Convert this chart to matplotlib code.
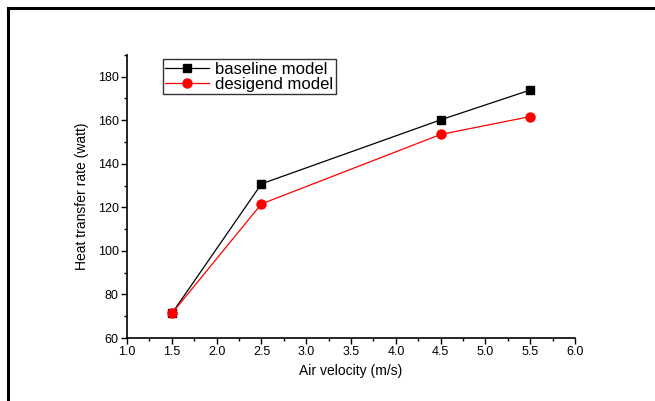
import matplotlib.pyplot as plt
from matplotlib.lines import Line2D
from matplotlib.ticker import MultipleLocator

plt.rcParams['font.family'] = ['Liberation Sans', 'DejaVu Sans']

velocity = [1.5, 2.5, 4.5, 5.5]
baseline = [71.3, 130.8, 160.2, 173.9]
designed = [71.3, 121.6, 153.5, 161.7]

fig = plt.figure(figsize=(6.55, 4.01), dpi=100)
ax = fig.add_axes([0.194, 0.157, 0.684, 0.706])

ax.plot(velocity, baseline, color='black', lw=0.9, marker='s', ms=5.5,
        label='baseline model')
ax.plot(velocity, designed, color='red', lw=0.9, marker='o', ms=6.5,
        label='desigend model')

ax.set_xlim(1.0, 6.0)
ax.set_ylim(60, 190)
ax.xaxis.set_major_locator(MultipleLocator(0.5))
ax.xaxis.set_minor_locator(MultipleLocator(0.25))
ax.yaxis.set_major_locator(MultipleLocator(20))
ax.yaxis.set_minor_locator(MultipleLocator(10))
ax.set_yticks(range(60, 181, 20))
ax.tick_params(which='major', length=4, width=1, labelsize=9, pad=2)
ax.tick_params(which='minor', length=2.5, width=1)
for s in ('top', 'right'):
    ax.spines[s].set_visible(False)
for s in ('left', 'bottom'):
    ax.spines[s].set_linewidth(1.2)

ax.set_xlabel('Air velocity (m/s)', fontsize=10, labelpad=4)
ax.set_ylabel('Heat transfer rate (watt)', fontsize=10, labelpad=6)

leg = ax.legend(loc='upper left', bbox_to_anchor=(0.08, 0.985), fontsize=12,
                frameon=True, fancybox=False, handlelength=2.6,
                borderpad=0.15, labelspacing=0.0, handletextpad=0.4,
                borderaxespad=0)
leg.get_frame().set_edgecolor('black')
leg.get_frame().set_linewidth(1.0)

# outer frame along the left and top edges
fig.add_artist(Line2D([8 / 655, 8 / 655], [0, 1 - 8 / 401],
                      transform=fig.transFigure, color='black', lw=2.2))
fig.add_artist(Line2D([8 / 655, 1], [1 - 8 / 401, 1 - 8 / 401],
                      transform=fig.transFigure, color='black', lw=2.2))

fig.savefig('out.png', dpi=100)
